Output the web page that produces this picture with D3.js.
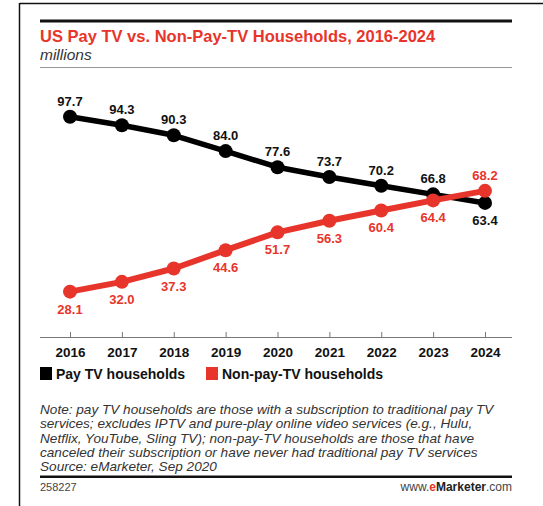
<!DOCTYPE html>
<html>
<head>
<meta charset="utf-8">
<script src="https://cdn.jsdelivr.net/npm/d3@7/dist/d3.min.js"></script>
<style>
  html, body { margin: 0; padding: 0; background: #fff; }
  svg { display: block; }
</style>
</head>
<body>
<svg id="chart" width="543" height="506"></svg>
<script>
// Households in millions, 2016-2024
const years = ["2016", "2017", "2018", "2019", "2020", "2021", "2022", "2023", "2024"];
const payTV = [97.7, 94.3, 90.3, 84.0, 77.6, 73.7, 70.2, 66.8, 63.4];
const nonPayTV = [28.1, 32.0, 37.3, 44.6, 51.7, 56.3, 60.4, 64.4, 68.2];
const seriesNames = ["Pay TV households", "Non-pay-TV households"];
const noteLines = [
  "Note: pay TV households are those with a subscription to traditional pay TV",
  "services; excludes IPTV and pure-play online video services (e.g., Hulu,",
  "Netflix, YouTube, Sling TV); non-pay-TV households are those that have",
  "canceled their subscription or have never had traditional pay TV services",
  "Source: eMarketer, Sep 2020"
];

const RED = "#e8352b";
const BLACK = "#000";
const FONT = "'Liberation Sans', Arial, sans-serif";

const svg = d3.select("#chart");

// outer frame (top and left edges)
svg.append("line").attr("x1", 19.5).attr("x2", 543).attr("y1", 3.5).attr("y2", 3.5)
  .attr("stroke", "#111").attr("stroke-width", 1.5);
svg.append("line").attr("x1", 19.5).attr("x2", 19.5).attr("y1", 3).attr("y2", 506)
  .attr("stroke", "#111").attr("stroke-width", 1.5);

const left = 40, right = 512;

// header
svg.append("rect").attr("x", left).attr("y", 19.5).attr("width", right - left).attr("height", 3).attr("fill", "#111");
svg.append("text").attr("x", left).attr("y", 42)
  .attr("font-family", FONT).attr("font-weight", "bold").attr("font-size", 16.5)
  .attr("fill", RED).text("US Pay TV vs. Non-Pay-TV Households, 2016-2024");
svg.append("text").attr("x", left).attr("y", 60)
  .attr("font-family", FONT).attr("font-style", "italic").attr("font-size", 15.5)
  .attr("fill", "#333").text("millions");
svg.append("line").attr("x1", left).attr("x2", right).attr("y1", 67.5).attr("y2", 67.5)
  .attr("stroke", "#999").attr("stroke-width", 1);

// scales
const x = d3.scalePoint().domain(years).range([70, 485]);
const y = d3.scaleLinear().domain([0, 100]).range([362.3, 110.9]);

// x axis
const axisY = 337;
const xAxis = svg.append("g").attr("transform", `translate(0,${axisY})`)
  .call(d3.axisBottom(x).tickSize(-5).tickPadding(0).tickSizeOuter(0));
xAxis.select(".domain").remove();
xAxis.append("line").attr("x1", left).attr("x2", right).attr("y1", 0.5).attr("y2", 0.5)
  .attr("stroke", "#777").attr("stroke-width", 1);
xAxis.selectAll(".tick line").attr("stroke", "#777");
xAxis.selectAll(".tick text")
  .attr("font-family", FONT).attr("font-weight", "bold").attr("font-size", 13.5)
  .attr("fill", "#111").attr("dy", null).attr("y", 20);

// series
const line = d3.line().x(d => x(d.year)).y(d => y(d.value));
const series = [
  { name: seriesNames[0], color: BLACK, values: payTV, width: 5.5 },
  { name: seriesNames[1], color: RED, values: nonPayTV, width: 6 }
];
series.forEach(s => {
  const pts = years.map((yr, i) => ({ year: yr, value: s.values[i] }));
  svg.append("path").datum(pts).attr("d", line)
    .attr("fill", "none").attr("stroke", s.color).attr("stroke-width", s.width)
    .attr("stroke-linejoin", "round");
  svg.append("g").selectAll("circle").data(pts).join("circle")
    .attr("cx", d => x(d.year)).attr("cy", d => y(d.value)).attr("r", 7)
    .attr("fill", s.color);
});

// value labels: pay TV above, non-pay-TV below; swapped in the last year where they cross
years.forEach((yr, i) => {
  const p = payTV[i], n = nonPayTV[i];
  const payAbove = p >= n;
  svg.append("text").attr("x", x(yr)).attr("y", y(p) + (payAbove ? -11 : 22))
    .attr("text-anchor", "middle").attr("font-family", FONT).attr("font-weight", "bold")
    .attr("font-size", 13).attr("fill", "#111").text(p.toFixed(1));
  svg.append("text").attr("x", x(yr)).attr("y", y(n) + (payAbove ? 22 : -11))
    .attr("text-anchor", "middle").attr("font-family", FONT).attr("font-weight", "bold")
    .attr("font-size", 13).attr("fill", RED).text(n.toFixed(1));
});

// legend
const legend = svg.append("g").attr("transform", "translate(0,379)");
[[left, series[0]], [206, series[1]]].forEach(([lx, s]) => {
  legend.append("rect").attr("x", lx).attr("y", -12).attr("width", 12).attr("height", 13).attr("fill", s.color);
  legend.append("text").attr("x", lx + 16).attr("y", 0)
    .attr("font-family", FONT).attr("font-weight", "bold").attr("font-size", 14)
    .attr("fill", "#111").text(s.name);
});

// notes
svg.append("g").selectAll("text").data(noteLines).join("text")
  .attr("x", left).attr("y", (d, i) => 414 + i * 14.3)
  .attr("font-family", FONT).attr("font-style", "italic").attr("font-size", 13.6)
  .attr("fill", "#333").text(d => d);

// footer
svg.append("rect").attr("x", left).attr("y", 475.5).attr("width", right - left).attr("height", 2.5).attr("fill", "#111");
svg.append("text").attr("x", left).attr("y", 491)
  .attr("font-family", FONT).attr("font-size", 11).attr("fill", "#444").text("258227");
const site = svg.append("text").attr("x", right).attr("y", 491).attr("text-anchor", "end")
  .attr("font-family", FONT).attr("font-size", 12).attr("fill", "#444");
site.append("tspan").text("www.");
site.append("tspan").attr("fill", RED).attr("font-weight", "bold").text("e");
site.append("tspan").attr("fill", "#222").attr("font-weight", "bold").text("Marketer");
site.append("tspan").text(".com");
</script>
</body>
</html>
